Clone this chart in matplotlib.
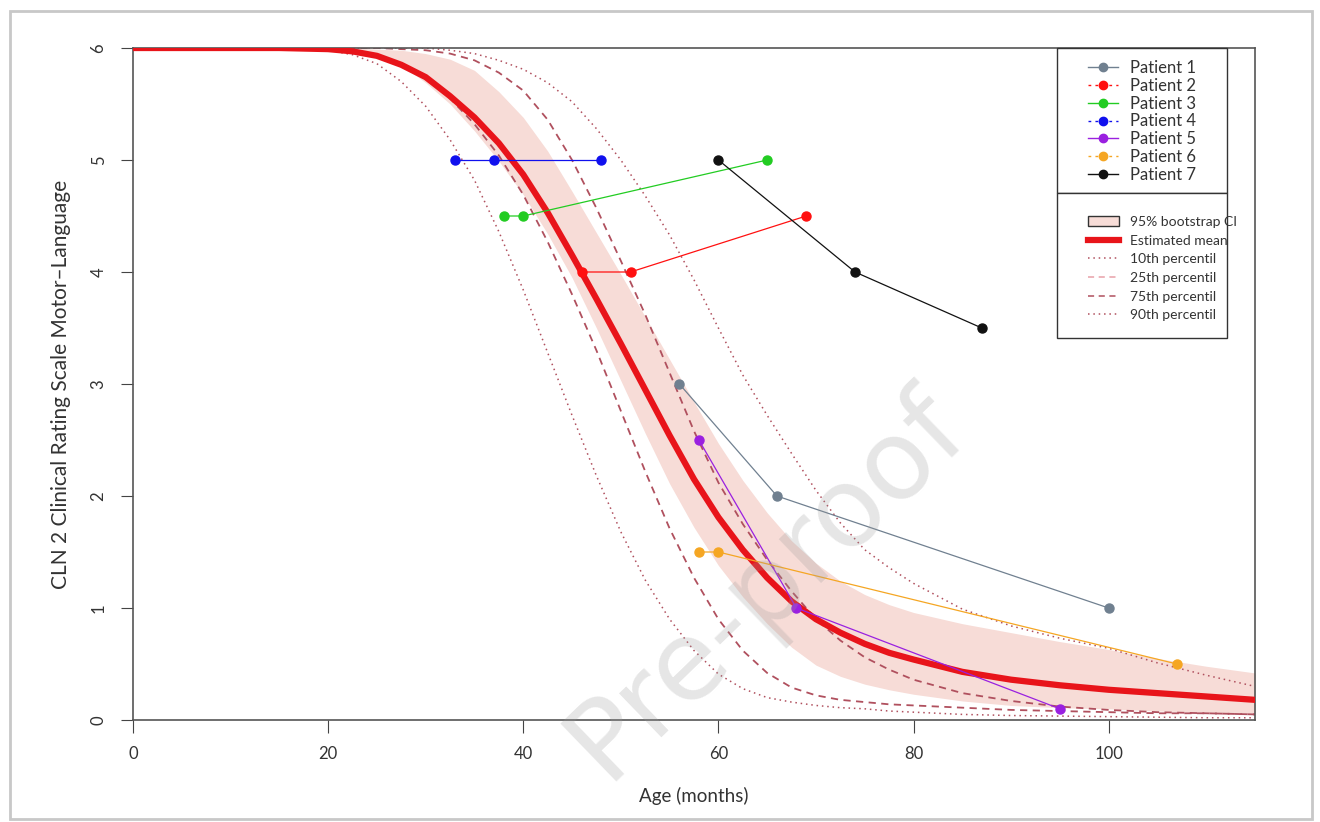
import matplotlib.pyplot as plt
from matplotlib.lines import Line2D
from matplotlib.patches import Patch, Rectangle

plt.rcParams['font.family'] = ['Lato', 'DejaVu Sans']

age = [0, 5, 10, 15, 20, 22.5, 25, 27.5, 30, 32.5, 35, 37.5, 40, 42.5, 45, 47.5,
       50, 52.5, 55, 57.5, 60, 62.5, 65, 67.5, 70, 72.5, 75, 77.5, 80, 85, 90,
       95, 100, 105, 110, 115]

mean = [6.0, 6.0, 6.0, 6.0, 5.99, 5.97, 5.93, 5.85, 5.74, 5.57, 5.38, 5.15, 4.87,
        4.53, 4.15, 3.76, 3.36, 2.95, 2.54, 2.15, 1.81, 1.52, 1.27, 1.06, 0.9, 0.78,
        0.68, 0.6, 0.54, 0.43, 0.36, 0.31, 0.27, 0.24, 0.21, 0.18]
ci_low = [6.0, 6.0, 6.0, 6.0, 6.0, 5.98, 5.95, 5.85, 5.69, 5.5, 5.26, 4.99, 4.69,
          4.34, 3.95, 3.5, 3.03, 2.56, 2.11, 1.72, 1.38, 1.1, 0.86, 0.65, 0.49,
          0.39, 0.32, 0.27, 0.23, 0.17, 0.13, 0.11, 0.1, 0.08, 0.07, 0.06]
ci_high = [6.0, 6.0, 6.0, 6.0, 6.0, 6.0, 5.99, 5.98, 5.95, 5.9, 5.8, 5.61, 5.38,
           5.08, 4.72, 4.35, 3.98, 3.6, 3.22, 2.84, 2.47, 2.14, 1.85, 1.6, 1.4,
           1.24, 1.12, 1.03, 0.96, 0.86, 0.78, 0.7, 0.63, 0.55, 0.48, 0.42]
p10 = [6.0, 6.0, 6.0, 6.0, 5.98, 5.94, 5.86, 5.7, 5.48, 5.18, 4.82, 4.36, 3.84,
       3.28, 2.72, 2.18, 1.68, 1.25, 0.9, 0.62, 0.41, 0.28, 0.2, 0.16, 0.13, 0.11,
       0.1, 0.08, 0.07, 0.05, 0.04, 0.035, 0.03, 0.025, 0.02, 0.02]
p25 = [6.0, 6.0, 6.0, 6.0, 6.0, 5.98, 5.94, 5.86, 5.73, 5.55, 5.32, 5.04, 4.69,
       4.27, 3.8, 3.3, 2.76, 2.22, 1.71, 1.27, 0.9, 0.62, 0.42, 0.29, 0.22, 0.18,
       0.16, 0.14, 0.13, 0.11, 0.09, 0.08, 0.07, 0.06, 0.06, 0.05]
p75 = [6.0, 6.0, 6.0, 6.0, 6.0, 6.0, 6.0, 5.99, 5.98, 5.95, 5.89, 5.78, 5.62, 5.36,
       5.0, 4.57, 4.1, 3.62, 3.1, 2.58, 2.12, 1.75, 1.43, 1.15, 0.9, 0.71, 0.56,
       0.45, 0.36, 0.24, 0.17, 0.12, 0.09, 0.07, 0.06, 0.05]
p90 = [6.0, 6.0, 6.0, 6.0, 6.0, 6.0, 6.0, 6.0, 6.0, 5.98, 5.95, 5.89, 5.81, 5.69,
       5.52, 5.28, 5.0, 4.68, 4.33, 3.93, 3.5, 3.08, 2.72, 2.38, 2.05, 1.76, 1.52,
       1.36, 1.22, 0.99, 0.84, 0.73, 0.64, 0.51, 0.4, 0.3]

# observed patients
patients = ['Patient 1', 'Patient 2', 'Patient 3', 'Patient 4', 'Patient 5', 'Patient 6', 'Patient 7']
pat_age = [[56, 66, 100], [46, 51, 69], [38, 40, 65], [33, 37, 48],
           [58, 68, 95], [58, 60, 107], [60, 74, 87]]
pat_score = [[3, 2, 1], [4, 4, 4.5], [4.5, 4.5, 5], [5, 5, 5],
             [2.5, 1, 0.1], [1.5, 1.5, 0.5], [5, 4, 3.5]]
pat_col = ['#708090', '#ff1010', '#22cc22', '#1010ee', '#9a20e0', '#f5a623', '#111111']

W, H = 1320, 822
fig = plt.figure(figsize=(W / 100, H / 100), dpi=100)
x0, x1, y0, y1 = 133, 1255, 48, 720
ax = fig.add_axes([x0 / W, 1 - y1 / H, (x1 - x0) / W, (y1 - y0) / H])


def axc(px, py):
    # pixel position -> axes fraction
    return (px - x0) / (x1 - x0), (y1 - py) / (y1 - y0)


pc = '#b0505e'
ax.fill_between(age, ci_low, ci_high, color='#f7dcd7', lw=0, zorder=1)
ax.plot(age, p10, color=pc, ls=(0, (1, 2.5)), lw=1.1, zorder=2)
ax.plot(age, p25, color=pc, ls=(0, (4, 3)), lw=1.3, zorder=2)
ax.plot(age, p75, color=pc, ls=(0, (4, 3)), lw=1.3, zorder=2)
ax.plot(age, p90, color=pc, ls=(0, (1, 2.5)), lw=1.1, zorder=2)
ax.plot(age, mean, color='#e8141a', lw=4.5, zorder=3, solid_joinstyle='round')

for a, s, c in zip(pat_age, pat_score, pat_col):
    ax.plot(a, s, color=c, lw=0.9, marker='o', ms=6.5, zorder=4)

ax.set_xlim(0, 115)
ax.set_ylim(0, 6)
ax.set_xticks([0, 20, 40, 60, 80, 100])
ax.set_yticks(range(7))
for t in ax.get_yticklabels():
    t.set_rotation(90)
    t.set_va('center')
ax.tick_params(axis='both', labelsize=12, length=9, color='#444444', labelcolor='#333333')
ax.tick_params(axis='x', pad=10)
ax.tick_params(axis='y', pad=10)
for sp in ax.spines.values():
    sp.set_color('#555555')
    sp.set_linewidth(1.2)
ax.set_xlabel('Age (months)', fontsize=13.5, color='#333333', labelpad=18)
ax.set_ylabel('CLN 2 Clinical Rating Scale Motor\u2013Language', fontsize=15,
              color='#333333', labelpad=14)

# legend boxes drawn by hand, legends placed inside without frames
for top, bot in [(48, 193), (193, 338)]:
    bx, by = axc(1057, bot)
    bw = 170 / (x1 - x0)
    bh = (bot - top) / (y1 - y0)
    ax.add_patch(Rectangle((bx, by), bw, bh, transform=ax.transAxes, fill=True,
                           facecolor='white', edgecolor='#333333', lw=1.0,
                           zorder=5, clip_on=False))

h1 = []
for i, (n, c) in enumerate(zip(patients, pat_col)):
    h1.append(Line2D([], [], color=c, lw=1, ls='-' if i % 2 == 0 else (0, (2, 3)),
                     marker='o', ms=6, label=n))
leg1 = ax.legend(handles=h1, loc='upper left', bbox_to_anchor=axc(1088, 60),
                 fontsize=12, frameon=False, borderpad=0, borderaxespad=0,
                 labelspacing=0.11, handlelength=1.8, handletextpad=0.75,
                 labelcolor='#333333')
leg1.set_zorder(6)
ax.add_artist(leg1)

h2 = [Patch(facecolor='#f7dcd7', edgecolor='#333333', label='95% bootstrap CI'),
      Line2D([], [], color='#e8141a', lw=4.5, label='Estimated mean'),
      Line2D([], [], color=pc, ls=(0, (1, 2.5)), lw=1.1, label='10th percentil'),
      Line2D([], [], color='#e8a0a8', ls=(0, (4, 3)), lw=1.1, label='25th percentil'),
      Line2D([], [], color=pc, ls=(0, (4, 3)), lw=1.1, label='75th percentil'),
      Line2D([], [], color=pc, ls=(0, (1, 2.5)), lw=1.1, label='90th percentil')]
leg2 = ax.legend(handles=h2, loc='upper left', bbox_to_anchor=axc(1088, 216),
                 fontsize=10, frameon=False, borderpad=0, borderaxespad=0,
                 labelspacing=0.48, handlelength=2.2, handletextpad=0.85,
                 labelcolor='#333333')
leg2.set_zorder(6)

# watermark and page frame
fig.text(0.58, 0.29, 'Pre-proof', fontsize=80, color='#9a9a9a', alpha=0.25,
         rotation=44, ha='center', va='center', family='DejaVu Sans', zorder=10)
fig.patches.append(Rectangle((10 / W, 3 / H), 1302 / W, 808 / H,
                             transform=fig.transFigure, fill=False,
                             edgecolor='#c8c8c8', lw=2))

fig.savefig('out.png', dpi=100)
